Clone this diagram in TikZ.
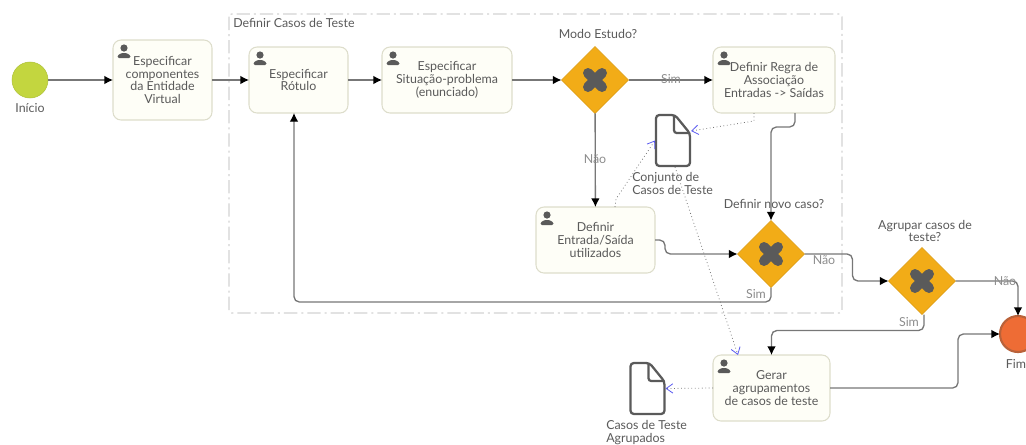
\documentclass[tikz,border=0pt]{standalone}
\usepackage{fontspec}
\setmainfont{Lato}
\usepackage{xcolor}
\usetikzlibrary{arrows.meta,shapes.geometric,calc}

\definecolor{inkgray}{HTML}{5A5A5A}
\definecolor{linegray}{HTML}{777777}
\definecolor{softgray}{HTML}{8C8C8C}
\definecolor{taskfill}{HTML}{FEFEF7}
\definecolor{taskedge}{HTML}{DDDDCB}
\definecolor{gatefill}{HTML}{F2AC17}
\definecolor{startfill}{HTML}{C3D63F}
\definecolor{endfill}{HTML}{EE6C35}
\definecolor{endedge}{HTML}{B9623A}
\definecolor{assocblue}{HTML}{5A5AF0}

\tikzset{
    every node/.style={font=\fontsize{9.3}{9.7}\selectfont, text=inkgray, align=center},
    task/.style={draw=taskedge, fill=taskfill, rounded corners=6pt, line width=0.8pt, inner sep=0pt, outer sep=0pt},
    gate/.style={diamond, draw=gatefill!90!black, fill=gatefill, minimum width=50.25pt, minimum height=50.25pt, inner sep=0pt, outer sep=0pt},
    startev/.style={circle, draw=startfill!90!black, fill=startfill, minimum size=27pt, inner sep=0pt, outer sep=0pt},
    endev/.style={circle, draw=endedge, line width=1.6pt, fill=endfill, minimum size=27pt, inner sep=0pt, outer sep=0pt},
    docbox/.style={minimum width=27pt, minimum height=39.75pt, inner sep=0pt, outer sep=0pt},
    flow/.style={draw=linegray, line width=1pt, rounded corners=4pt, -{Latex[black,length=6.5pt,width=6.5pt]}},
    assoc/.style={draw=linegray, dotted, line width=0.6pt, -{Straight Barb[assocblue,length=5pt,width=7pt]}},
    flowlabel/.style={text=softgray},
    usericon/.pic={
        \fill[inkgray] (0,-3) circle (3.6);
        \fill[inkgray, rounded corners=1pt] (-6.5,7) -- (-6.5,4.5) -- (-2.5,2) -- (2.5,2) -- (6.5,4.5) -- (6.5,7) -- cycle;
    },
    crossicon/.pic={
        \draw[inkgray, line width=7.5pt, line cap=round] (-7,-7) -- (7,7) (-7,7) -- (7,-7);
    },
    docicon/.pic={
        \draw[inkgray, line width=1.7pt, rounded corners=2.5pt] (-17,-25.5) -- (2,-25.5) -- (17,-7) -- (17,25.5) -- (-17,25.5) -- cycle;
        \draw[inkgray, line width=1.7pt, rounded corners=2pt] (1,-25.5) -- (1,-7.5) -- (17,-7.5);
    }
}

\begin{document}
\begin{tikzpicture}[x=0.75pt,y=-0.75pt]
    \clip (0,0) rectangle (1026,444);

    % Group frame
    \draw[gray!35, line width=0.8pt, rounded corners=2pt, dash pattern=on 10pt off 3pt on 1.5pt off 3pt] (229,14) rectangle (842,313);
    \node[right, inner sep=0pt] (lblGroup) at (233,23) {Definir Casos de Teste};

    % Events
    \node[startev] (evStart) at (30,80) {};
    \node (lblStart) at (30,108) {Início};
    \node[endev] (evEnd) at (1018,334) {};
    \node (lblEnd) at (1016,364) {Fim};

    % Tasks
    \node[task, minimum width=74.25pt, minimum height=60pt] (taskComp) at (162.5,80) {Especificar\\componentes\\da Entidade\\Virtual};
    \node[task, minimum width=74.25pt, minimum height=49.5pt] (taskRotulo) at (298.5,80) {Especificar\\Rótulo};
    \node[task, minimum width=97.5pt, minimum height=49.5pt] (taskSitu) at (447,80) {Especificar\\Situação-problema\\(enunciado)};
    \node[task, minimum width=91.5pt, minimum height=49.5pt] (taskRegra) at (774,80) {Definir Regra de\\Associação\\Entradas -> Saídas};
    \node[task, minimum width=89.25pt, minimum height=49.5pt] (taskEntrada) at (595.5,240) {Definir\\Entrada/Saída\\utilizados};
    \node[task, minimum width=87.75pt, minimum height=49.5pt] (taskGerar) at (771.5,388) {Gerar\\agrupamentos\\de casos de teste};

    % User icons
    \foreach \t in {taskComp,taskRotulo,taskSitu,taskRegra,taskEntrada,taskGerar} {
        \pic at ($(\t.north west)+(11,11)$) {usericon};
    }

    % Gateways
    \node[gate] (gateModo) at (595,80) {};
    \node[gate] (gateNovo) at (771,254) {};
    \node[gate] (gateAgrupar) at (922,281) {};
    \foreach \g in {gateModo,gateNovo,gateAgrupar} {
        \pic at (\g) {crossicon};
    }
    \node (lblModo) at (598,34) {Modo Estudo?};
    \node (lblNovo) at (774,204) {Definir novo caso?};
    \node (lblAgrupar) at (925,231) {Agrupar casos de\\teste?};

    % Data objects
    \node[docbox] (docConjunto) at (673,140.5) {};
    \pic at (docConjunto) {docicon};
    \node[align=left, anchor=north west, inner sep=0pt] (lblConjunto) at (632,172) {Conjunto de\\Casos de Teste};
    \node[docbox] (docAgrupados) at (647.5,388.5) {};
    \pic at (docAgrupados) {docicon};
    \node[align=left, anchor=north west, inner sep=0pt] (lblAgrupados) at (606,420) {Casos de Teste\\Agrupados};

    % Sequence flows
    \draw[flow] (evStart) -- (taskComp);
    \draw[flow] (taskComp) -- (taskRotulo);
    \draw[flow] (taskRotulo) -- (taskSitu);
    \draw[flow] (taskSitu) -- (gateModo);
    \draw[flow] (gateModo) -- (taskRegra);
    \draw[flow] (gateModo) -- (taskEntrada);
    \draw[flow] ($(taskRegra.south)+(21,0)$) -- ++(0,14) -| (gateNovo.north);
    \draw[flow] (taskEntrada.east) -- ++(10,0) |- (gateNovo.west);
    \draw[flow] (gateNovo.east) -- ++(48,0) |- (gateAgrupar.west);
    \draw[flow] (gateNovo.south) |- ($(taskRotulo.south)+(-4.5,189)$) -- ($(taskRotulo.south)+(-4.5,0)$);
    \draw[flow] (gateAgrupar.east) -| (evEnd.north);
    \draw[flow] ($(gateAgrupar.south)+(2,0)$) -- ++(0,16) -| (taskGerar.north);
    \draw[flow] (taskGerar.east) -- ++(128,0) |- (evEnd.west);

    % Flow labels
    \node[flowlabel] (lblSimA) at (671,79) {Sim};
    \node[flowlabel] (lblNaoA) at (595,159) {Não};
    \node[flowlabel] (lblNaoB) at (824,260) {Não};
    \node[flowlabel] (lblSimB) at (756,294) {Sim};
    \node[flowlabel] (lblNaoC) at (1005,281) {Não};
    \node[flowlabel] (lblSimC) at (909,322) {Sim};

    % Associations
    \draw[assoc] ($(taskRegra.south)+(-20,0)$) -- ++(0,8) -- (docConjunto.east |- 0,131);
    \draw[assoc] ($(taskEntrada.north)+(19.5,0)$) -- ++(1,-8) -- (docConjunto.west);
    \draw[assoc] ($(docConjunto.south)+(2,0)$) -- ($(taskGerar.north)+(-33.5,0)$);
    \draw[assoc] (taskGerar.west) -- (docAgrupados.east);
\end{tikzpicture}
\end{document}
